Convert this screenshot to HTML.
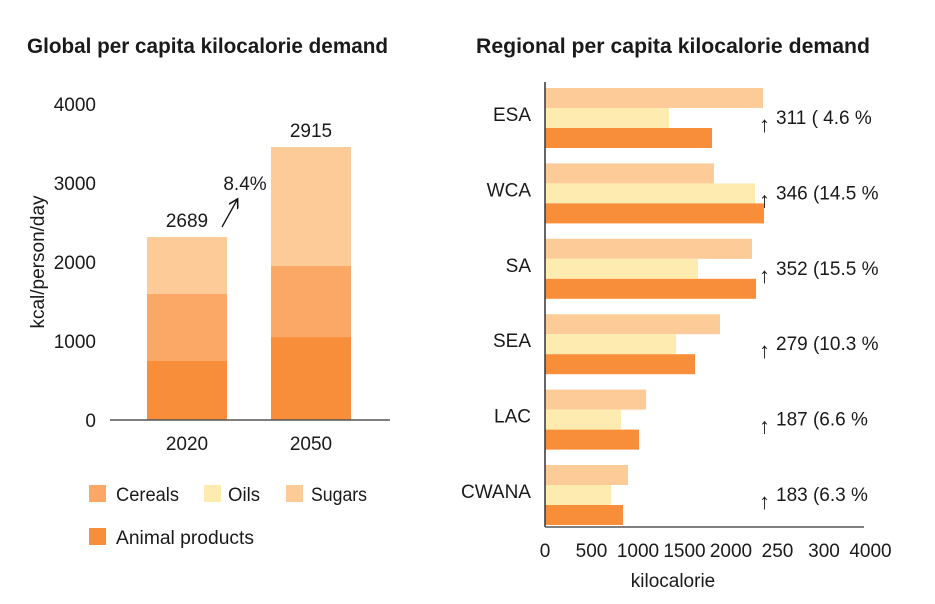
<!DOCTYPE html>
<html><head><meta charset="utf-8">
<style>
html,body{margin:0;padding:0;background:#fff;}
svg{display:block;font-family:"Liberation Sans",sans-serif;}
</style></head>
<body>
<svg id="chart" width="935" height="604" viewBox="0 0 935 604" xmlns="http://www.w3.org/2000/svg">
<defs>
<marker id="ah" markerWidth="8" markerHeight="8" refX="6" refY="4" orient="auto"><path d="M0,0 L7,4 L0,8" fill="none" stroke="#111" stroke-width="1.2"/></marker>
</defs>
<text x="27" y="53" font-size="21" font-weight="bold" fill="#1a1a1a" textLength="361" lengthAdjust="spacingAndGlyphs">Global per capita kilocalorie demand</text>
<text x="476" y="53" font-size="21" font-weight="bold" fill="#1a1a1a" textLength="394" lengthAdjust="spacingAndGlyphs">Regional per capita kilocalorie demand</text>
<g id="left"></g>
<g id="right"></g>
<g id="legend"></g>
</svg>
<script>
const years = ["2020","2050"];
const animal = [747, 1050];
const cereals = [848, 899];
const sugars = [721, 1507];
const totals = ["2689","2915"];
const yTicks = [0,1000,2000,3000,4000];

const regions = ["ESA","WCA","SA","SEA","LAC","CWANA"];
const regSugars = [2344,1817,2226,1882,1086,892];
const regOils = [1333,2258,1645,1409,817,710];
const regAnimal = [1796,2355,2269,1613,1011,839];
const regNotes = ["311 ( 4.6 %","346 (14.5 %","352 (15.5 %","279 (10.3 %","187 (6.6 %","183 (6.3 %"];
const xTickVals = [0,500,1000,1500,2000,2500,3000,3500];
const xTickLabels = ["0","500","1000","1500","2000","250","300","4000"];

const C = {animal:"#F98E3A", cereals:"#FBA765", sugars:"#FDCB98", oils:"#FEEBB0"};
const NS = "http://www.w3.org/2000/svg";
function mk(tag, attrs, parent, txt){const e=document.createElementNS(NS,tag);for(const k in attrs)e.setAttribute(k,attrs[k]);if(txt!==undefined)e.textContent=txt;parent.appendChild(e);return e;}

// left chart
const L = document.getElementById('left');
const y0=420, pxPer=0.079;
const ly = v => y0 - v*pxPer;
const bx = i => 147 + i*124;
const bw = 80;
yTicks.forEach(t=>{
  const e=mk('text',{x:96,y:ly(t)+7,'font-size':19,'text-anchor':'end',fill:'#1a1a1a'},L,String(t));
  
  
});
const yt=mk('text',{x:0,y:0,'font-size':19,'text-anchor':'middle',fill:'#1a1a1a',transform:'translate(44,262) rotate(-90)'},L,'kcal/person/day');


years.forEach((yr,i)=>{
  let base=0;
  [[animal,C.animal,'animal'],[cereals,C.cereals,'cereals'],[sugars,C.sugars,'sugars']].forEach(([arr,col,nm])=>{
    const v=arr[i];
    const r=mk('rect',{x:bx(i),y:ly(base+v),width:bw,height:v*pxPer,fill:col},L);
    
    
    base+=v;
  });
  const tl=mk('text',{x:bx(i)+bw/2,y:ly(base)-10,'font-size':19,'text-anchor':'middle',fill:'#1a1a1a'},L,totals[i]);
  
  
  const xl=mk('text',{x:bx(i)+bw/2,y:450,'font-size':19,'text-anchor':'middle',fill:'#1a1a1a'},L,yr);
  
  
});
const ax=mk('line',{x1:110,y1:y0,x2:390,y2:y0,stroke:'#555',"stroke-width":1.5},L);


const ar=mk('line',{x1:222,y1:227,x2:237,y2:200,stroke:'#111','stroke-width':1.3,'marker-end':'url(#ah)'},L);


const gp=mk('text',{x:245,y:190,'font-size':19,'text-anchor':'middle',fill:'#1a1a1a'},L,'8.4%');



// right chart
const R=document.getElementById('right');
const rx0=545, rpx=0.093;
const rx = v => rx0 + v*rpx;
const gy = i => 88 + i*75.4;
const bh=20;
regions.forEach((rg,i)=>{
  const top=gy(i);
  [[regSugars,C.sugars,'sugars'],[regOils,C.oils,'oils'],[regAnimal,C.animal,'animal']].forEach(([arr,col,nm],j)=>{
    const r=mk('rect',{x:rx0,y:top+j*bh,width:arr[i]*rpx,height:bh,fill:col},R);
    
    
  });
  const lb=mk('text',{x:531,y:top+33,'font-size':19,'text-anchor':'end',fill:'#1a1a1a'},R,rg);
  
  
  const arw=mk('text',{x:759,y:top+44,'font-size':22,fill:'#1a1a1a'},R,'↑');
  
  
  const nt=mk('text',{x:776,y:top+36,'font-size':19,fill:'#1a1a1a'},R,regNotes[i]);
  
  
});
const va=mk('line',{x1:rx0,y1:82,x2:rx0,y2:527,stroke:'#333','stroke-width':1.5},R);


const ha=mk('line',{x1:rx0,y1:527,x2:864,y2:527,stroke:'#555','stroke-width':1.5},R);


xTickVals.forEach((v,i)=>{
  const t=mk('text',{x:rx(v),y:557,'font-size':19,'text-anchor':'middle',fill:'#1a1a1a'},R,xTickLabels[i]);
  
  
});
const xt=mk('text',{x:673,y:587,'font-size':19,'text-anchor':'middle',fill:'#1a1a1a'},R,'kilocalorie');



// legend
const G=document.getElementById('legend');
[[89,485,116,C.cereals,'Cereals','cereals',63],[204,485,228,C.oils,'Oils','oils',32],[286,485,311,C.sugars,'Sugars','sugars',56],[89,528,116,C.animal,'Animal products','animal-products',138]].forEach(([x,y,tx0,c,t,n,w])=>{
  const s=mk('rect',{x:x,y:y,width:17,height:17,fill:c},G);
  
  
  const tx=mk('text',{x:tx0,y:y+16,'font-size':19,fill:'#1a1a1a',textLength:w,lengthAdjust:'spacingAndGlyphs'},G,t);
  
  
});
</script>
</body></html>
